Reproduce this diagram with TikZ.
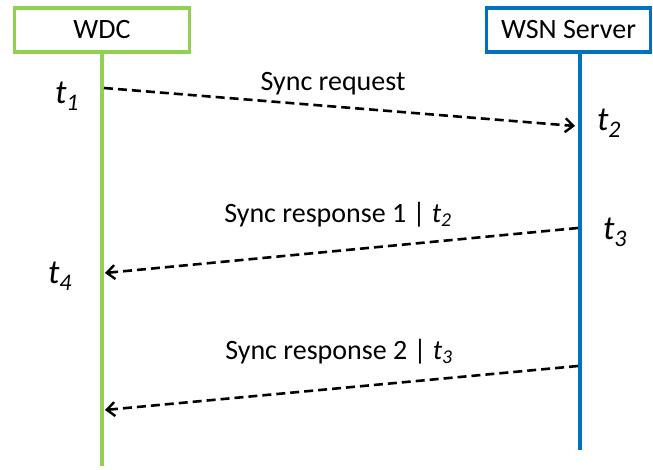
\documentclass[tikz,border=0pt]{standalone}
\usepackage{fontspec}
\setmainfont{Carlito}
\usetikzlibrary{arrows.meta}
\definecolor{wdcgreen}{RGB}{146,208,80}
\definecolor{wsnblue}{RGB}{0,112,192}
\tikzset{
  actor/.style={draw, line width=3.8pt, fill=white, minimum height=44pt, inner sep=0pt, font=\fontsize{28}{32}\selectfont},
  lifeline/.style={line width=3.8pt},
  msg/.style={draw=black, line width=2.6pt, dash pattern=on 9pt off 5pt, -{Straight Barb[length=8pt,width=14pt,line width=2.4pt]}},
  lbl/.style={font=\fontsize{28}{32}\selectfont, inner sep=0pt},
  tlbl/.style={font=\fontsize{34}{38}\selectfont\itshape, inner sep=0pt}
}
\begin{document}
\begin{tikzpicture}[x=1pt,y=-1pt]
\useasboundingbox (0,0) rectangle (653,470);
% participants
\node[actor, draw=wdcgreen, minimum width=175pt] (wdc) at (102,30) {WDC};
\node[actor, draw=wsnblue, minimum width=164pt] (wsn) at (568.5,30) {WSN Server};
% lifelines
\coordinate (wdcend) at (102,466);
\coordinate (wsnend) at (580,450);
\draw[lifeline, wdcgreen] (wdc.south -| wdcend) -- (wdcend);
\draw[lifeline, wsnblue] (wsn.south -| wsnend) -- (wsnend);
% message end points
\coordinate (m1s) at (104,88);
\coordinate (m1e) at (575,126);
\coordinate (m2s) at (578,228);
\coordinate (m2e) at (105,273);
\coordinate (m3s) at (578,366);
\coordinate (m3e) at (105,410);
\draw[msg] (m1s) -- (m1e);
\draw[msg] (m2s) -- (m2e);
\draw[msg] (m3s) -- (m3e);
% message labels
\node[lbl] (l1) at (333,84) {Sync request};
\node[lbl] (l2) at (338,215) {Sync response 1 | \textit{t}\textsubscript{\itshape 2}};
\node[lbl] (l3) at (339,352) {Sync response 2 | \textit{t}\textsubscript{\itshape 3}};
% timestamps
\node[tlbl] (t1) at (67,96) {t\textsubscript{1}};
\node[tlbl] (t2) at (609,123) {t\textsubscript{2}};
\node[tlbl] (t3) at (615,232) {t\textsubscript{3}};
\node[tlbl] (t4) at (60,276) {t\textsubscript{4}};
\end{tikzpicture}
\end{document}
